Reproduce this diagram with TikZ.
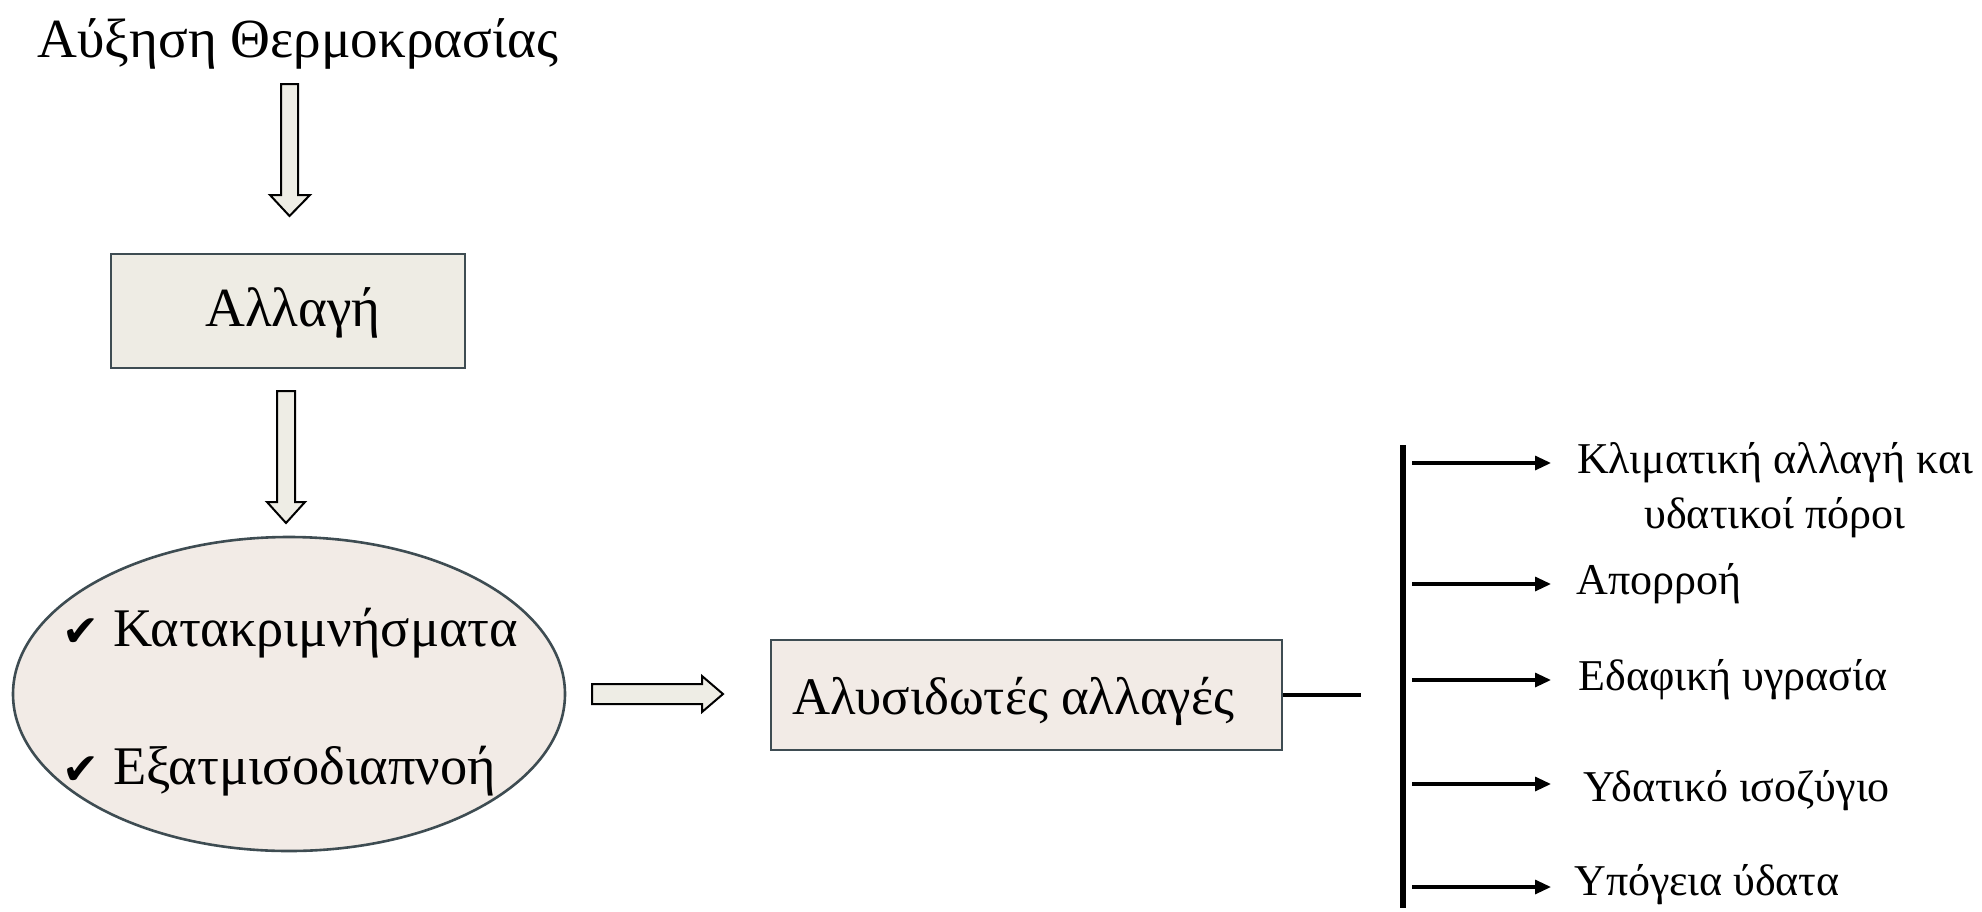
\documentclass[tikz,border=0pt]{standalone}
\usepackage{fontspec}
\setmainfont{Liberation Serif}
\newfontfamily\symfont{DejaVu Sans}
\usetikzlibrary{shapes.geometric,arrows.meta}
\definecolor{fillA}{RGB}{238,236,228}
\definecolor{fillB}{RGB}{242,235,230}
\definecolor{bordc}{RGB}{62,76,82}
\definecolor{arrfill}{RGB}{238,237,229}
\tikzset{
  bigtext/.style={inner sep=0pt, font=\fontsize{27.6}{34}\selectfont},
  lab/.style={inner sep=0pt, font=\fontsize{22}{27.5}\selectfont},
  boxA/.style={draw=bordc, fill=fillA, line width=1.4pt, inner sep=0pt},
  boxB/.style={draw=bordc, fill=fillB, line width=1.4pt, inner sep=0pt},
  blockarrow/.style={draw=black, fill=arrfill, line width=1pt, line join=miter},
  thinarrow/.style={line width=1.6pt, -{Triangle[length=8pt,width=7pt]}},
  plainline/.style={line width=1.6pt},
}
\begin{document}
\begin{tikzpicture}[x=0.5pt,y=-0.5pt]
\useasboundingbox (0,0) rectangle (1982,911);
% title
\node[bigtext, anchor=base] (title) at (298,57) {Αύξηση Θερμοκρασίας};
% block arrow 1
\draw[blockarrow] (281,84) -- (298,84) -- (298,195) -- (310,195) -- (289.5,216) -- (270,195) -- (281,195) -- cycle;
% box 1
\node[boxA, minimum width=177pt, minimum height=57pt] (b1) at (288,311) {};
\node[bigtext, anchor=base] (b1t) at (293,326) {Αλλαγή};
% block arrow 2
\draw[blockarrow] (277,391) -- (295,391) -- (295,502) -- (305,502) -- (286,523) -- (267,502) -- (277,502) -- cycle;
% ellipse
\node[draw=bordc, fill=fillB, line width=1.3pt, ellipse, inner sep=0pt, minimum width=276pt, minimum height=157pt] (el) at (289,694) {};
\node[bigtext, anchor=base west, font=\fontsize{27.2}{34}\selectfont] (e1) at (62,646) {{\symfont\fontsize{22}{28}\selectfont ✔}\hspace{7pt}Κατακριμνήσματα};
\node[bigtext, anchor=base west, font=\fontsize{27.2}{34}\selectfont] (e2) at (62,784) {{\symfont\fontsize{22}{28}\selectfont ✔}\hspace{7pt}Εξατμισοδιαπνοή};
% block arrow 3
\draw[blockarrow] (592,684) -- (702,684) -- (702,676) -- (723,694) -- (702,712) -- (702,704) -- (592,704) -- cycle;
% box 2
\node[boxB, minimum width=255.5pt, minimum height=55pt] (b2) at (1026.5,695) {};
\node[bigtext, anchor=base, font=\fontsize{26.4}{34}\selectfont] (b2t) at (1013.5,714) {Αλυσιδωτές αλλαγές};
% connector line
\coordinate (lend) at (1361,695);
\draw[plainline] (b2.east) -- (lend);
% vertical bar
\coordinate (vtop) at (1403,445);
\coordinate (vbot) at (1403,908);
\draw[line width=3pt] (vtop) -- (vbot);
% arrows
\foreach \i/\yy in {1/463,2/584,3/680,4/784,5/887}{
  \coordinate (s\i) at (1412,\yy);
  \coordinate (f\i) at (1551,\yy);
  \draw[thinarrow] (s\i) -- (f\i);
}
% labels
\node[lab, align=center] (l1) at (1775,490.5) {Κλιματική αλλαγή και\\υδατικοί πόροι};
\node[lab, anchor=west] (l2) at (1576,584) {Απορροή};
\node[lab, anchor=west] (l3) at (1578,680) {Εδαφική υγρασία};
\node[lab, anchor=west] (l4) at (1583,791) {Υδατικό ισοζύγιο};
\node[lab, anchor=west] (l5) at (1574,885) {Υπόγεια ύδατα};
\end{tikzpicture}
\end{document}
